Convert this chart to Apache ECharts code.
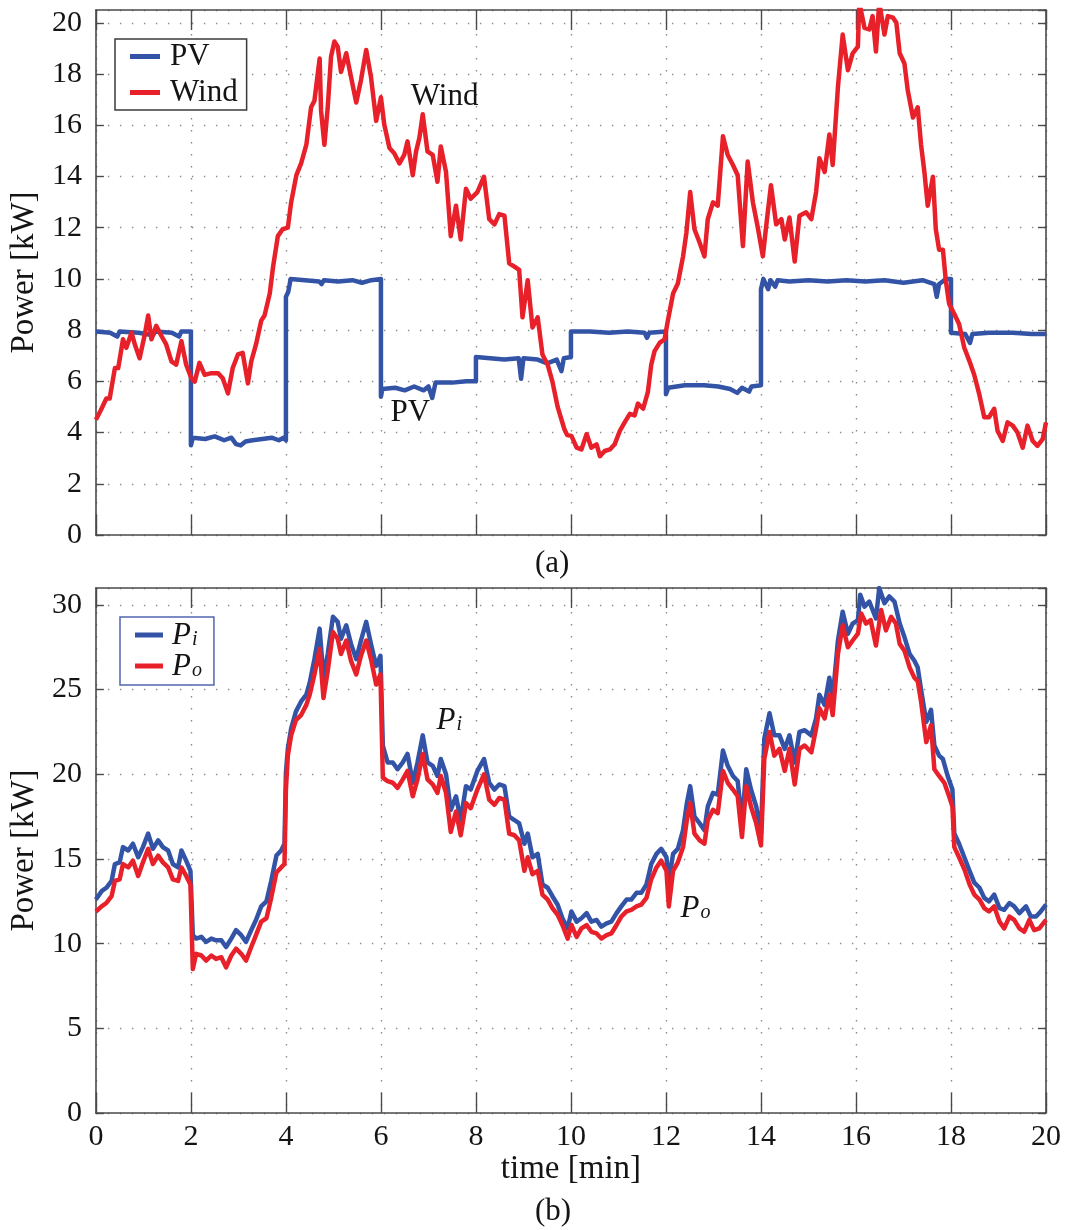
<!DOCTYPE html>
<html>
<head>
<meta charset="utf-8">
<script src="https://cdn.jsdelivr.net/npm/echarts@6/dist/echarts.min.js"></script>
<style>
  html, body { margin: 0; padding: 0; background: #ffffff; }
  #chart { width: 1075px; height: 1230px; }
</style>
</head>
<body>
<div id="chart"></div>
<script>
// ---- data: [time in min, power in kW] ----
const pvPower = [[0,7.95],[0.3,7.9],[0.45,7.75],[0.5,7.95],[0.9,7.9],[1.2,7.8],[1.25,7.95],[1.6,7.9],[1.75,7.75],[1.8,7.95],[2.0,7.95],[2.0,3.5],[2.04,3.8],[2.3,3.75],[2.5,3.85],[2.7,3.7],[2.85,3.8],[2.95,3.55],[3.05,3.5],[3.15,3.65],[3.3,3.7],[3.5,3.75],[3.7,3.8],[3.85,3.7],[3.95,3.8],[4.0,3.7],[4.0,9.3],[4.05,9.5],[4.1,10.0],[4.4,9.95],[4.7,9.9],[4.75,9.8],[4.8,9.95],[5.1,9.9],[5.4,9.95],[5.6,9.85],[5.8,9.95],[6.0,10.0],[6.0,5.4],[6.03,5.7],[6.3,5.75],[6.5,5.65],[6.7,5.8],[6.9,5.65],[7.0,5.8],[7.08,5.35],[7.15,5.95],[7.5,5.95],[7.8,6.0],[8.0,6.0],[8.0,6.95],[8.3,6.9],[8.6,6.85],[8.9,6.9],[8.95,6.1],[9.0,6.9],[9.3,6.85],[9.5,6.7],[9.7,6.85],[9.8,6.4],[9.85,6.9],[10.0,6.95],[10.0,7.95],[10.4,7.95],[10.8,7.9],[11.2,7.95],[11.55,7.9],[11.6,7.7],[11.65,7.9],[12.0,7.95],[12.0,5.5],[12.05,5.75],[12.4,5.85],[12.8,5.85],[13.1,5.8],[13.35,5.7],[13.5,5.55],[13.6,5.75],[13.75,5.6],[13.8,5.8],[14.0,5.85],[14.0,9.6],[14.05,10.0],[14.15,9.6],[14.2,9.95],[14.3,9.7],[14.35,9.95],[14.6,9.9],[15.0,9.95],[15.4,9.9],[15.8,9.95],[16.2,9.9],[16.6,9.95],[17.0,9.85],[17.4,9.95],[17.65,9.8],[17.7,9.3],[17.75,9.8],[17.9,10.0],[18.0,10.0],[18.0,7.9],[18.3,7.85],[18.4,7.5],[18.45,7.85],[18.8,7.9],[19.3,7.9],[19.7,7.85],[20.0,7.85]];

const windPower = [[0,4.5],[0.1,4.86],[0.22,5.33],[0.29,5.33],[0.4,6.52],[0.47,6.52],[0.57,7.64],[0.64,7.31],[0.75,7.9],[0.82,7.44],[0.92,6.9],[1.03,7.84],[1.1,8.57],[1.17,7.64],[1.27,8.17],[1.38,7.77],[1.48,7.44],[1.59,6.78],[1.69,6.65],[1.8,7.57],[1.9,6.65],[2.01,6.12],[2.08,5.99],[2.18,6.72],[2.29,6.25],[2.43,6.32],[2.57,6.32],[2.67,6.12],[2.78,5.53],[2.88,6.52],[2.99,7.05],[3.09,7.11],[3.2,5.92],[3.27,6.78],[3.37,7.44],[3.48,8.37],[3.55,8.57],[3.66,9.43],[3.73,10.48],[3.83,11.67],[3.93,11.94],[4.04,12.0],[4.11,12.99],[4.22,14.05],[4.32,14.51],[4.43,15.24],[4.53,16.7],[4.6,16.96],[4.71,18.61],[4.74,16.56],[4.81,15.24],[4.88,16.7],[4.95,18.68],[5.02,19.27],[5.09,19.07],[5.16,18.08],[5.27,18.81],[5.37,17.89],[5.48,16.89],[5.58,17.76],[5.69,18.94],[5.79,17.89],[5.9,16.17],[6.0,17.09],[6.07,16.03],[6.18,15.11],[6.28,14.91],[6.39,14.51],[6.49,14.84],[6.56,15.37],[6.67,14.05],[6.74,14.98],[6.81,15.51],[6.88,16.43],[6.98,14.98],[7.09,14.84],[7.19,13.79],[7.26,15.17],[7.37,14.18],[7.47,11.67],[7.58,12.86],[7.68,11.54],[7.79,13.52],[7.89,13.13],[8.03,13.39],[8.17,13.99],[8.28,12.33],[8.39,12.13],[8.49,12.53],[8.6,12.47],[8.7,10.61],[8.81,10.48],[8.91,10.35],[8.98,8.5],[9.09,9.95],[9.19,8.1],[9.3,8.5],[9.4,7.05],[9.51,6.65],[9.61,5.99],[9.72,5.0],[9.86,4.14],[9.92,3.9],[10.01,3.87],[10.12,3.41],[10.22,3.34],[10.33,3.94],[10.43,3.41],[10.54,3.54],[10.61,3.08],[10.71,3.28],[10.82,3.34],[10.92,3.54],[11.03,4.07],[11.13,4.4],[11.24,4.73],[11.34,4.67],[11.41,5.13],[11.52,4.93],[11.62,5.59],[11.69,6.65],[11.76,7.18],[11.87,7.51],[11.97,7.64],[12.04,8.37],[12.15,9.43],[12.25,9.82],[12.36,10.88],[12.43,11.8],[12.51,13.39],[12.6,11.94],[12.71,11.41],[12.81,10.88],[12.88,12.33],[12.99,12.99],[13.09,12.86],[13.2,15.57],[13.3,14.84],[13.41,14.45],[13.51,14.05],[13.62,11.28],[13.72,14.58],[13.83,12.99],[13.94,11.94],[14.04,10.88],[14.11,12.07],[14.21,13.66],[14.32,12.13],[14.43,12.33],[14.5,11.54],[14.6,12.4],[14.71,10.68],[14.81,12.47],[14.95,12.6],[15.06,12.33],[15.16,13.39],[15.23,14.71],[15.34,14.18],[15.44,15.64],[15.51,14.45],[15.62,17.49],[15.72,19.54],[15.83,18.15],[15.93,18.81],[16.04,19.07],[16.07,20.8],[16.18,19.8],[16.28,19.74],[16.35,20.26],[16.42,18.88],[16.49,20.8],[16.6,19.54],[16.67,20.26],[16.78,20.2],[16.85,20.0],[16.92,18.81],[17.02,18.41],[17.09,17.36],[17.2,16.3],[17.3,16.7],[17.37,15.24],[17.44,14.18],[17.51,12.86],[17.62,13.99],[17.68,11.94],[17.75,11.14],[17.83,11.14],[17.89,9.95],[17.96,9.03],[18.07,8.63],[18.17,8.24],[18.28,7.31],[18.39,6.78],[18.49,6.25],[18.6,5.46],[18.7,4.6],[18.8,4.6],[18.91,4.93],[18.98,4.07],[19.09,3.67],[19.19,4.4],[19.3,4.27],[19.4,4.0],[19.51,3.41],[19.61,4.27],[19.72,3.67],[19.82,3.48],[19.93,3.74],[20.0,4.4]];

const inputPower = [[0,12.6],[0.12,13.1],[0.22,13.3],[0.33,13.7],[0.4,14.7],[0.5,14.8],[0.57,15.7],[0.68,15.5],[0.78,15.9],[0.89,15.1],[0.99,15.7],[1.1,16.5],[1.2,15.6],[1.31,16.1],[1.41,15.7],[1.52,15.5],[1.62,14.7],[1.73,14.5],[1.8,15.5],[1.9,14.9],[1.99,14.3],[2.04,10.5],[2.11,10.3],[2.22,10.4],[2.32,10.1],[2.43,10.3],[2.53,10.2],[2.64,10.2],[2.74,9.8],[2.85,10.3],[2.95,10.8],[3.06,10.5],[3.16,10.1],[3.27,10.8],[3.37,11.4],[3.48,12.2],[3.59,12.5],[3.69,13.7],[3.8,15.2],[3.9,15.5],[3.97,15.9],[4.0,20.1],[4.04,21.5],[4.11,22.7],[4.21,23.7],[4.32,24.3],[4.43,24.7],[4.5,25.4],[4.6,26.8],[4.71,28.6],[4.79,25.7],[4.88,27.1],[4.99,29.3],[5.09,29.0],[5.16,28.0],[5.27,28.8],[5.37,27.7],[5.48,26.8],[5.58,27.9],[5.69,29.0],[5.79,27.7],[5.9,26.4],[5.99,27.0],[6.04,21.7],[6.14,20.7],[6.25,20.7],[6.35,20.3],[6.46,20.7],[6.56,21.2],[6.67,19.5],[6.77,20.7],[6.88,22.3],[6.98,20.7],[7.09,20.5],[7.19,19.9],[7.26,20.9],[7.37,20.0],[7.47,17.9],[7.58,18.7],[7.68,17.3],[7.79,19.3],[7.89,19.1],[8.03,20.2],[8.17,20.9],[8.28,19.5],[8.39,19.1],[8.49,19.4],[8.6,19.3],[8.7,17.5],[8.81,17.3],[8.91,17.1],[9.02,15.9],[9.09,16.5],[9.19,15.1],[9.3,15.3],[9.4,13.5],[9.51,13.3],[9.61,12.8],[9.72,12.3],[9.82,11.5],[9.93,10.9],[10.01,11.9],[10.12,11.3],[10.22,11.5],[10.33,11.8],[10.43,11.3],[10.54,11.4],[10.64,11.0],[10.75,11.2],[10.85,11.3],[10.96,11.8],[11.06,12.2],[11.17,12.6],[11.27,12.6],[11.38,13.0],[11.48,13.0],[11.59,13.5],[11.69,14.7],[11.8,15.3],[11.9,15.6],[12.01,15.1],[12.06,13.7],[12.15,15.3],[12.25,15.6],[12.36,16.7],[12.44,18.3],[12.51,19.3],[12.6,17.5],[12.71,17.1],[12.81,16.7],[12.88,18.1],[12.99,18.9],[13.09,18.8],[13.2,21.4],[13.3,20.5],[13.41,19.9],[13.51,19.6],[13.6,17.1],[13.69,20.3],[13.79,19.1],[13.9,18.1],[14.0,16.5],[14.07,22.1],[14.18,23.6],[14.28,22.3],[14.39,22.3],[14.5,21.5],[14.6,22.3],[14.71,20.7],[14.81,22.5],[14.92,22.6],[15.06,22.3],[15.16,23.3],[15.23,24.7],[15.34,24.1],[15.44,25.7],[15.51,24.5],[15.62,27.9],[15.72,29.6],[15.83,28.3],[15.93,28.9],[16.04,29.1],[16.09,30.6],[16.18,29.9],[16.28,30.2],[16.35,29.7],[16.42,29.2],[16.49,31.0],[16.6,30.1],[16.7,30.5],[16.81,30.2],[16.92,28.9],[17.02,28.1],[17.13,27.1],[17.23,26.7],[17.3,26.3],[17.37,25.0],[17.48,23.1],[17.58,23.8],[17.65,21.7],[17.75,21.1],[17.83,20.9],[17.93,19.9],[18.03,19.1],[18.07,16.5],[18.17,15.9],[18.28,15.1],[18.39,14.3],[18.49,13.6],[18.6,13.3],[18.7,12.7],[18.8,12.5],[18.91,12.9],[19.02,12.1],[19.12,12.0],[19.23,12.4],[19.33,12.2],[19.44,11.8],[19.58,12.2],[19.68,11.6],[19.79,11.6],[19.89,11.9],[20.0,12.3]];

const outputPower = [[0,11.9],[0.12,12.2],[0.22,12.4],[0.33,12.8],[0.4,13.7],[0.5,13.8],[0.57,14.7],[0.68,14.5],[0.78,14.9],[0.89,14.0],[0.99,14.8],[1.1,15.6],[1.2,14.7],[1.31,15.2],[1.41,14.8],[1.52,14.5],[1.62,13.8],[1.73,13.7],[1.8,14.5],[1.9,14.0],[1.99,13.5],[2.04,8.5],[2.11,9.4],[2.22,9.3],[2.32,9.0],[2.43,9.3],[2.53,9.1],[2.64,9.2],[2.74,8.6],[2.85,9.3],[2.95,9.7],[3.06,9.4],[3.16,9.0],[3.27,9.8],[3.37,10.5],[3.48,11.3],[3.59,11.5],[3.69,12.7],[3.8,14.2],[3.9,14.5],[3.97,14.7],[4.0,19.1],[4.04,21.1],[4.11,22.3],[4.21,23.2],[4.32,23.5],[4.43,24.1],[4.5,24.7],[4.6,25.9],[4.71,27.4],[4.79,24.5],[4.88,26.1],[4.99,28.4],[5.09,28.0],[5.16,27.1],[5.27,27.9],[5.37,26.7],[5.48,25.9],[5.58,27.0],[5.69,27.9],[5.79,26.8],[5.9,25.3],[5.99,25.9],[6.04,19.8],[6.14,19.6],[6.25,19.5],[6.35,19.2],[6.46,19.7],[6.56,20.2],[6.67,18.7],[6.77,19.7],[6.88,21.2],[6.98,19.7],[7.09,19.4],[7.19,18.9],[7.26,19.9],[7.37,18.9],[7.47,16.6],[7.58,17.8],[7.68,16.4],[7.79,18.3],[7.89,18.0],[8.03,19.1],[8.17,20.0],[8.28,18.5],[8.39,18.2],[8.49,18.6],[8.6,18.5],[8.7,16.5],[8.81,16.4],[8.91,16.1],[9.02,14.3],[9.09,15.1],[9.19,14.1],[9.3,14.3],[9.4,12.9],[9.51,12.6],[9.61,12.1],[9.72,11.7],[9.82,11.1],[9.93,10.3],[10.01,11.1],[10.12,10.4],[10.22,10.9],[10.33,11.1],[10.43,10.7],[10.54,10.6],[10.64,10.3],[10.75,10.5],[10.85,10.6],[10.96,11.1],[11.06,11.6],[11.17,11.9],[11.27,12.0],[11.38,12.2],[11.48,12.3],[11.59,12.7],[11.69,13.8],[11.8,14.5],[11.9,14.9],[12.01,14.3],[12.06,12.2],[12.15,14.3],[12.25,14.8],[12.36,15.7],[12.44,17.3],[12.51,18.3],[12.6,16.5],[12.71,16.1],[12.81,15.9],[12.88,17.3],[12.99,17.9],[13.09,17.7],[13.2,20.2],[13.3,19.5],[13.41,19.1],[13.51,18.7],[13.6,16.3],[13.69,19.3],[13.79,18.1],[13.9,17.1],[14.0,15.8],[14.07,20.9],[14.18,22.5],[14.28,21.1],[14.39,21.5],[14.5,20.2],[14.6,21.5],[14.71,19.4],[14.81,21.5],[14.92,21.7],[15.06,21.3],[15.16,22.7],[15.23,23.9],[15.34,23.3],[15.44,24.7],[15.51,23.5],[15.62,27.1],[15.72,28.8],[15.83,27.5],[15.93,27.9],[16.04,28.3],[16.11,29.5],[16.21,28.9],[16.31,29.1],[16.42,27.6],[16.53,29.7],[16.63,28.5],[16.74,29.3],[16.84,28.9],[16.92,27.7],[17.02,27.3],[17.13,26.3],[17.23,25.7],[17.3,25.5],[17.37,24.3],[17.48,21.9],[17.58,22.9],[17.65,20.3],[17.75,19.9],[17.86,19.5],[17.96,18.7],[18.03,18.1],[18.07,15.7],[18.17,15.1],[18.28,14.4],[18.39,13.5],[18.49,12.9],[18.6,12.6],[18.7,12.1],[18.8,11.9],[18.91,12.2],[19.02,11.3],[19.12,10.9],[19.23,11.6],[19.33,11.4],[19.44,10.9],[19.54,10.7],[19.65,11.4],[19.75,10.8],[19.86,10.9],[20.0,11.4]];

// axis ranges / tick spacing
const timeRange = [0, 20, 2];        // min, max, interval
const sourceRange = [0, 20.5, 2];    // panel (a)
const transferRange = [0, 31, 5];    // panel (b)

// in-plot curve labels, in data coordinates
const curveLabels = [
  { series: 'PV',   text: 'PV',            at: [6.62, 4.75] },
  { series: 'Wind', text: 'Wind',          at: [7.34, 17.1] },
  { series: 'Pi',   text: '{p|P}{s|i}',    at: [7.44, 23.2] },
  { series: 'Po',   text: '{p|P}{s|o}',    at: [12.62, 12.1] }
];

// ---- styling ----
const FONT = 'Liberation Serif';
const BLUE = '#3353a6';
const RED = '#e8202a';
const AXIS_COLOR = '#4a4a4a';
const TEXT_COLOR = '#141414';

const subRich = {
  p: { fontFamily: FONT, fontStyle: 'italic', fontSize: 31, lineHeight: 30, color: TEXT_COLOR, verticalAlign: 'top' },
  s: { fontFamily: FONT, fontStyle: 'italic', fontSize: 20, lineHeight: 20, color: TEXT_COLOR, verticalAlign: 'top', padding: [10, 0, 0, 1] }
};

const dottedGrid = { show: true, lineStyle: { color: '#8a8a8a', width: 1.4, type: [1.4, 10.6] } };
const boxLine = { show: true, onZero: false, lineStyle: { color: AXIS_COLOR, width: 1.6 } };

function xAxisFor(gridIndex, position, labelled) {
  return {
    type: 'value', gridIndex, position,
    min: timeRange[0], max: timeRange[1], interval: timeRange[2],
    axisLine: boxLine,
    axisTick: { show: true, inside: true, length: 20, lineStyle: { color: AXIS_COLOR, width: 1.4 } },
    axisLabel: labelled ? { show: true, fontFamily: FONT, fontSize: 30, color: TEXT_COLOR, margin: 9 } : { show: false },
    splitLine: position === 'bottom' ? dottedGrid : { show: false }
  };
}

function yAxisFor(gridIndex, position, range, labelled) {
  const axis = {
    type: 'value', gridIndex, position,
    min: range[0], max: range[1], interval: range[2],
    axisLine: boxLine,
    axisTick: { show: true, inside: true, length: 8, lineStyle: { color: AXIS_COLOR, width: 1.4 } },
    axisLabel: { show: false },
    splitLine: position === 'left' ? dottedGrid : { show: false }
  };
  if (labelled) {
    axis.axisLabel = {
      show: true, fontFamily: FONT, fontSize: 30, color: TEXT_COLOR, margin: 14,
      showMaxLabel: false,
      formatter: v => (v % range[2] === 0 ? String(v) : '')
    };
    axis.name = 'Power [kW]';
    axis.nameLocation = 'middle';
    axis.nameGap = 53;
    axis.nameRotate = 90;
    axis.nameTextStyle = { fontFamily: FONT, fontSize: 33, color: TEXT_COLOR };
  }
  return axis;
}

function labelsFor(name) {
  const items = curveLabels.filter(c => c.series === name);
  if (!items.length) return undefined;
  return {
    symbol: 'circle', symbolSize: 1, silent: true,
    itemStyle: { color: 'rgba(0,0,0,0)' },
    label: {
      show: true, position: 'inside', color: TEXT_COLOR,
      fontFamily: FONT, fontSize: 31,
      formatter: p => p.data.text,
      rich: subRich
    },
    data: items.map(c => ({ coord: c.at, text: c.text }))
  };
}

function lineSeries(name, data, color, xi, yi) {
  return {
    name, type: 'line', data, xAxisIndex: xi, yAxisIndex: yi,
    symbol: 'none', showSymbol: false, clip: true,
    lineStyle: { color, width: 4.5, join: 'round' },
    itemStyle: { color },
    markPoint: labelsFor(name),
    z: 3
  };
}

const option = {
  animation: false,
  backgroundColor: '#ffffff',
  grid: [
    { left: 95, right: 29, top: 10, height: 525 },
    { left: 95, right: 29, top: 588, height: 525 }
  ],
  xAxis: [
    xAxisFor(0, 'bottom', false),
    xAxisFor(0, 'top', false),
    Object.assign(xAxisFor(1, 'bottom', true), {
      name: 'time [min]', nameLocation: 'middle', nameGap: 39,
      nameTextStyle: { fontFamily: FONT, fontSize: 33, color: TEXT_COLOR }
    }),
    xAxisFor(1, 'top', false)
  ],
  yAxis: [
    yAxisFor(0, 'left', sourceRange, true),
    yAxisFor(0, 'right', sourceRange, false),
    yAxisFor(1, 'left', transferRange, true),
    yAxisFor(1, 'right', transferRange, false)
  ],
  legend: [
    {
      data: ['PV', 'Wind'], orient: 'vertical', left: 115, top: 39,
      icon: 'rect', itemWidth: 30, itemHeight: 5, itemGap: 5,
      padding: [2, 9, 2, 15],
      borderColor: '#3a3a3a', borderWidth: 1.5, backgroundColor: '#ffffff',
      textStyle: { fontFamily: FONT, fontSize: 31, color: TEXT_COLOR, lineHeight: 30, padding: [0, 0, 0, 5] }
    },
    {
      data: ['Pi', 'Po'], orient: 'vertical', left: 120, top: 617,
      icon: 'rect', itemWidth: 28, itemHeight: 5, itemGap: 0,
      padding: [3, 12, 3, 15],
      borderColor: '#5266ae', borderWidth: 1.5, backgroundColor: '#ffffff',
      formatter: n => (n === 'Pi' ? '{p|P}{s|i}' : '{p|P}{s|o}'),
      textStyle: { fontFamily: FONT, fontSize: 31, color: TEXT_COLOR, rich: subRich, padding: [0, 0, 0, 4] }
    }
  ],
  graphic: [
    { type: 'text', left: 535, top: 548, style: { text: '(a)', font: '31px "Liberation Serif"', fill: TEXT_COLOR } },
    { type: 'text', left: 535, top: 1196, style: { text: '(b)', font: '31px "Liberation Serif"', fill: TEXT_COLOR } }
  ],
  series: [
    lineSeries('PV', pvPower, BLUE, 0, 0),
    lineSeries('Wind', windPower, RED, 0, 0),
    lineSeries('Pi', inputPower, BLUE, 2, 2),
    lineSeries('Po', outputPower, RED, 2, 2)
  ]
};

const chart = echarts.init(document.getElementById('chart'), null, { renderer: 'canvas' });
chart.setOption(option);
</script>
</body>
</html>
